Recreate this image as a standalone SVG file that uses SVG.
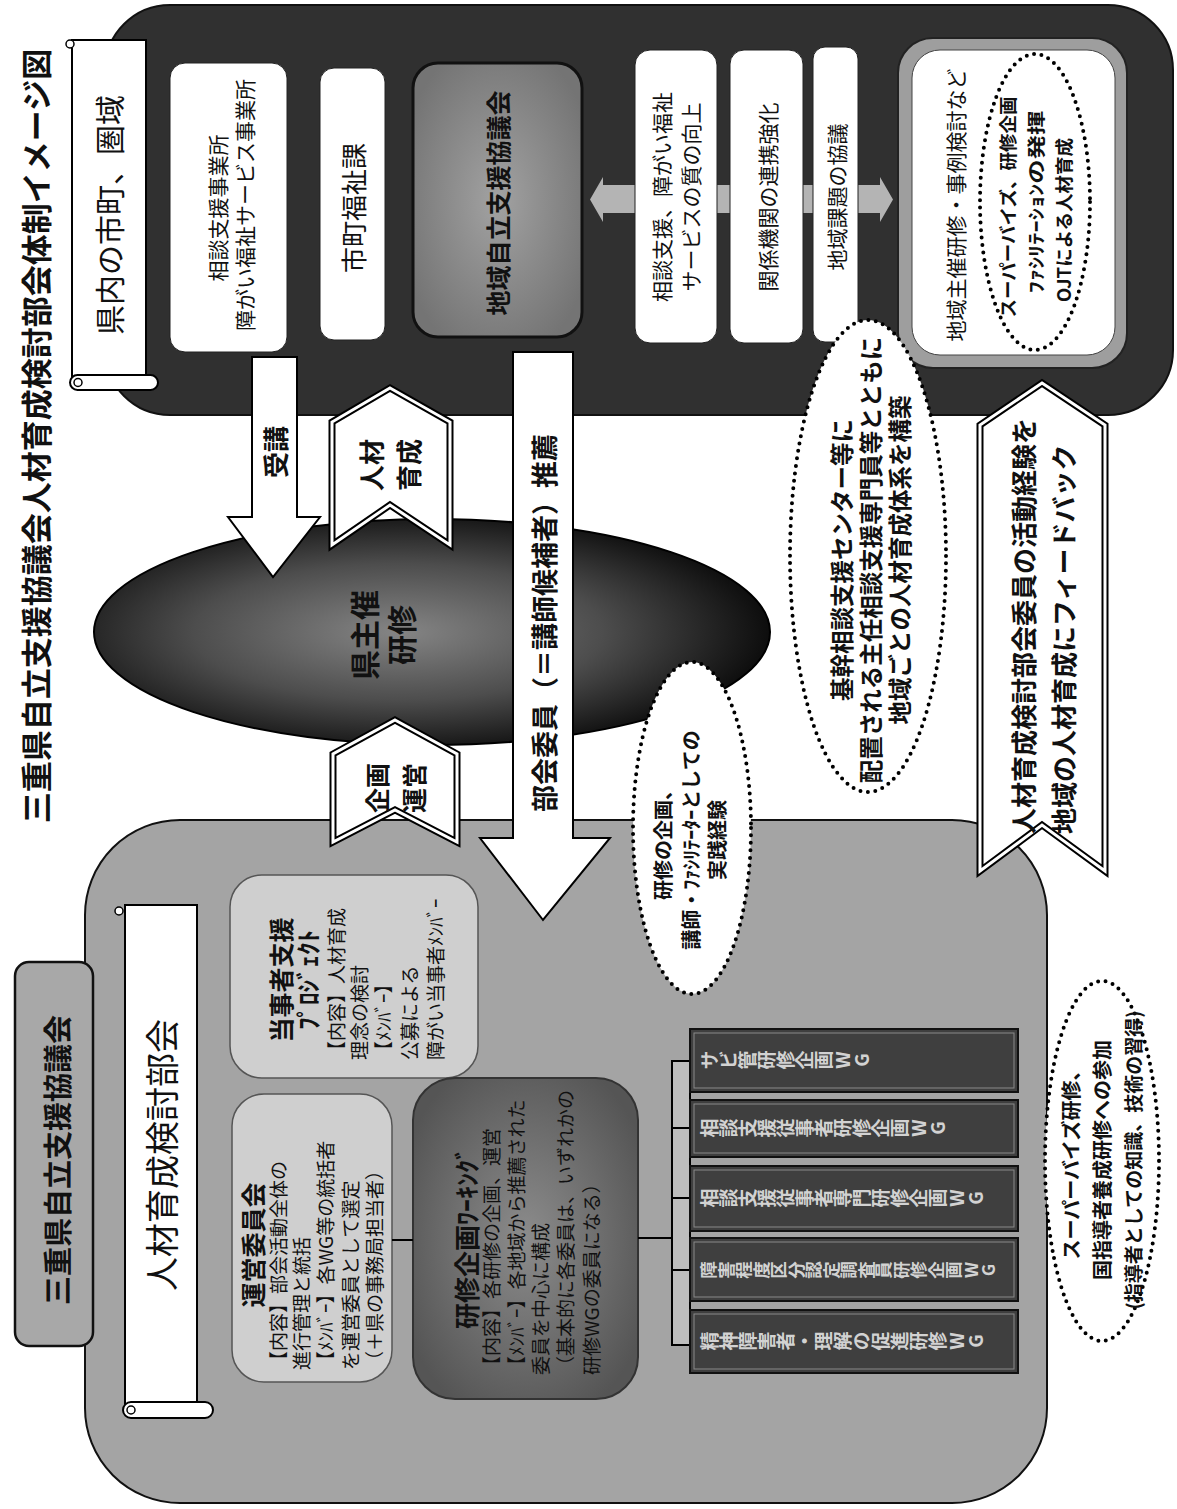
<svg xmlns="http://www.w3.org/2000/svg" width="1177" height="1509" viewBox="0 0 1177 1509">
<defs>
<style>
text{font-family:"Noto Sans CJK JP","Noto Sans",sans-serif;dominant-baseline:central;fill:#111}
.b{font-weight:700}
.m{text-anchor:middle}
.s{text-anchor:start}
.wb{fill:#fff;stroke:#222;stroke-width:1}
.dot{fill:#fff;stroke:#000;stroke-width:4;stroke-dasharray:0 7.5;stroke-linecap:round}
.doto{fill:none;stroke:#000;stroke-width:4;stroke-dasharray:0 7.5;stroke-linecap:round}
.cho{fill:#fff;stroke:#000;stroke-width:7;stroke-linejoin:miter}
.chi{fill:none;stroke:#fff;stroke-width:3;stroke-linejoin:miter}
.wg{fill:#3f3f3f;stroke:#111;stroke-width:2}
.wgi{fill:none;stroke:#8a8a8a;stroke-width:1}
.wgt{fill:#d2d2d2;font-size:19px;font-weight:700;writing-mode:vertical-rl;text-orientation:upright;text-anchor:start}
.ln{stroke:#000;stroke-width:2;fill:none}
.lt{fill:#cfcfcf;stroke:#555;stroke-width:1.5}
</style>
<radialGradient id="gEll" cx="0.45" cy="0.5" r="0.55">
<stop offset="0" stop-color="#858585"/>
<stop offset="0.55" stop-color="#4d4d4d"/>
<stop offset="1" stop-color="#0d0d0d"/>
</radialGradient>
<radialGradient id="gWk" cx="0.5" cy="0.5" r="0.6">
<stop offset="0" stop-color="#8c8c8c"/>
<stop offset="1" stop-color="#555"/>
</radialGradient>
<radialGradient id="gReg" cx="0.5" cy="0.5" r="0.6">
<stop offset="0" stop-color="#a2a2a2"/>
<stop offset="1" stop-color="#747474"/>
</radialGradient>
</defs>

<g id="title">
<text class="b m" font-size="31" font-weight="900" transform="translate(34 436) rotate(-90)">三重県自立支援協議会人材育成検討部会体制イメージ図</text>
</g>

<g id="region">
<rect x="105" y="5" width="1068" height="410" rx="65" fill="#303030" stroke="#111" stroke-width="2"/>
</g>

<g id="connectors-top">
<polygon points="590,199.5 603,177 603,185 880,185 880,177 893,199.5 880,222 880,213 603,213 603,222" fill="#b4b4b4"/>
</g>

<g id="region-scroll">
<rect x="72" y="40" width="74" height="345" fill="#fff" stroke="#000" stroke-width="2"/>
<circle cx="70" cy="44" r="4" fill="#fff" stroke="#000" stroke-width="1.5"/>
<rect x="70" y="375" width="88" height="15" rx="7.5" fill="#fff" stroke="#000" stroke-width="2"/>
<circle cx="78" cy="382.5" r="4" fill="#fff" stroke="#000" stroke-width="1.5"/>
<text class="m" font-size="30" transform="translate(108 215) rotate(-90)">県内の市町、圏域</text>
</g>

<g id="node-jigyosho">
<rect class="wb" x="170" y="63" width="117" height="289" rx="15"/>
<text class="m" font-size="21" transform="translate(217 208) rotate(-90)">相談支援事業所</text>
<text class="m" font-size="21" transform="translate(244 205) rotate(-90)">障がい福祉サービス事業所</text>
</g>

<g id="node-shicho">
<rect class="wb" x="320" y="68" width="65" height="272" rx="14"/>
<text class="m" font-size="26" transform="translate(352 208) rotate(-90)">市町福祉課</text>
</g>

<g id="node-chiiki">
<rect x="413" y="63" width="169" height="274" rx="25" fill="url(#gReg)" stroke="#111" stroke-width="3"/>
<text class="b m" font-size="25" transform="translate(497 203) rotate(-90)">地域自立支援協議会</text>
</g>

<g id="node-shitsu">
<rect class="wb" x="635" y="50" width="82" height="293" rx="15"/>
<text class="m" font-size="21" transform="translate(661 197) rotate(-90)">相談支援、障がい福祉</text>
<text class="m" font-size="21" transform="translate(690 197) rotate(-90)">サービスの質の向上</text>
</g>

<g id="node-renkei">
<rect class="wb" x="730" y="50" width="73" height="293" rx="14"/>
<text class="m" font-size="21" transform="translate(767 197) rotate(-90)">関係機関の連携強化</text>
</g>

<g id="node-kadai">
<rect class="wb" x="813" y="47" width="45" height="295" rx="12"/>
<text class="m" font-size="21" transform="translate(836 197) rotate(-90)">地域課題の協議</text>
</g>

<g id="node-chiiki-kenshu">
<rect x="898" y="38" width="229" height="330" rx="35" fill="#9e9e9e" stroke="#222" stroke-width="2"/>
<rect x="912" y="50" width="203" height="305" rx="28" fill="#fff" stroke="#444" stroke-width="1"/>
<text class="m" font-size="21" transform="translate(955 205) rotate(-90)">地域主催研修・事例検討など</text>
<ellipse class="doto" cx="1035" cy="202" rx="55" ry="148"/>
<text class="b m" font-size="18.5" transform="translate(1007 207) rotate(-90)">スーパーバイズ、研修企画</text>
<text class="b m" font-size="18.5" textLength="183" lengthAdjust="spacingAndGlyphs" transform="translate(1035 202) rotate(-90)">ﾌｧｼﾘﾃｰｼｮﾝの発揮</text>
<text class="b m" font-size="18.5" transform="translate(1063 220) rotate(-90)">OJTによる人材育成</text>
</g>

<g id="node-bukai">
<rect x="85" y="820" width="962" height="683" rx="95" fill="#a4a4a4" stroke="#111" stroke-width="2"/>
</g>

<g id="node-kyogikai-label">
<rect x="15" y="962" width="78" height="384" rx="14" fill="#a8a8a8" stroke="#111" stroke-width="2.5"/>
<text class="b m" font-size="29" transform="translate(56 1160) rotate(-90)">三重県自立支援協議会</text>
</g>

<g id="node-bukai-scroll">
<rect x="125" y="905" width="72" height="505" fill="#fff" stroke="#000" stroke-width="2"/>
<circle cx="119" cy="911" r="4" fill="#fff" stroke="#000" stroke-width="1.5"/>
<rect x="123" y="1402" width="90" height="16" rx="8" fill="#fff" stroke="#000" stroke-width="2"/>
<circle cx="131" cy="1410" r="4" fill="#fff" stroke="#000" stroke-width="1.5"/>
<text class="m" font-size="34" transform="translate(160 1155) rotate(-90)">人材育成検討部会</text>
</g>

<g id="node-tojisha">
<rect class="lt" x="230" y="875" width="248" height="203" rx="32"/>
<text class="b m" font-size="25" transform="translate(280 980) rotate(-90)">当事者支援</text>
<text class="b m" font-size="25" transform="translate(307 980) rotate(-90)">ﾌﾟﾛｼﾞｪｸﾄ</text>
<text class="s" font-size="19" transform="translate(335 1060) rotate(-90)">【内容】人材育成</text>
<text class="s" font-size="19" transform="translate(358 1060) rotate(-90)">理念の検討</text>
<text class="s" font-size="19" transform="translate(382 1060) rotate(-90)">【ﾒﾝﾊﾞｰ】</text>
<text class="s" font-size="19" transform="translate(408 1060) rotate(-90)">公募による</text>
<text class="s" font-size="19" transform="translate(434 1060) rotate(-90)">障がい当事者ﾒﾝﾊﾞｰ</text>
</g>

<g id="node-unei">
<rect class="lt" x="232" y="1094" width="160" height="288" rx="32"/>
<text class="b m" font-size="25" transform="translate(252 1245) rotate(-90)">運営委員会</text>
<text class="s" font-size="19" transform="translate(277 1370) rotate(-90)">【内容】部会活動全体の</text>
<text class="s" font-size="19" transform="translate(300 1370) rotate(-90)">進行管理と統括</text>
<text class="s" font-size="19" transform="translate(324 1370) rotate(-90)">【ﾒﾝﾊﾞｰ】各WG等の統括者</text>
<text class="s" font-size="19" transform="translate(349 1370) rotate(-90)">を運営委員として選定</text>
<text class="s" font-size="19" transform="translate(373 1370) rotate(-90)">（＋県の事務局担当者）</text>
</g>

<g id="node-working">
<rect x="413" y="1078" width="225" height="321" rx="42" fill="url(#gWk)" stroke="#333" stroke-width="2"/>
<text class="b m" font-size="26" transform="translate(465 1238) rotate(-90)">研修企画ﾜｰｷﾝｸﾞ</text>
<text class="s" font-size="19" transform="translate(490 1375) rotate(-90)">【内容】各研修の企画、運営</text>
<text class="s" font-size="19" transform="translate(515 1375) rotate(-90)">【ﾒﾝﾊﾞｰ】各地域から推薦された</text>
<text class="s" font-size="19" transform="translate(539 1375) rotate(-90)">委員を中心に構成</text>
<text class="s" font-size="19" transform="translate(564 1375) rotate(-90)">（基本的に各委員は、いずれかの</text>
<text class="s" font-size="19" transform="translate(590 1375) rotate(-90)">研修WGの委員になる）</text>
</g>

<g id="connectors">
<line class="ln" x1="392" y1="1240" x2="413" y2="1240"/>
<line class="ln" x1="638" y1="1238" x2="672" y2="1238"/>
<rect x="672" y="1061" width="18" height="284" fill="#bdbdbd" stroke="#000" stroke-width="2"/>
<line class="ln" x1="672" y1="1128" x2="690" y2="1128"/>
<line class="ln" x1="672" y1="1198" x2="690" y2="1198"/>
<line class="ln" x1="672" y1="1270" x2="690" y2="1270"/>
</g>

<g id="node-wg1">
<rect class="wg" x="690" y="1029" width="328" height="63"/>
<rect class="wgi" x="694" y="1033" width="320" height="55"/>
<text class="wgt" transform="translate(700 1060) rotate(-90)">サビ管研修企画WG</text>
</g>
<g id="node-wg2">
<rect class="wg" x="690" y="1100" width="328" height="57"/>
<rect class="wgi" x="694" y="1104" width="320" height="49"/>
<text class="wgt" transform="translate(700 1128) rotate(-90)">相談支援従事者研修企画WG</text>
</g>
<g id="node-wg3">
<rect class="wg" x="690" y="1166" width="328" height="65"/>
<rect class="wgi" x="694" y="1170" width="320" height="57"/>
<text class="wgt" transform="translate(700 1198) rotate(-90)">相談支援従事者専門研修企画WG</text>
</g>
<g id="node-wg4">
<rect class="wg" x="690" y="1238" width="328" height="63"/>
<rect class="wgi" x="694" y="1242" width="320" height="55"/>
<text class="wgt" style="font-size:17.5px" transform="translate(700 1270) rotate(-90)">障害程度区分認定調査員研修企画WG</text>
</g>
<g id="node-wg5">
<rect class="wg" x="690" y="1310" width="328" height="63"/>
<rect class="wgi" x="694" y="1314" width="320" height="55"/>
<text class="wgt" transform="translate(700 1341) rotate(-90)">精神障害者・理解の促進研修WG</text>
</g>

<g id="node-ken-kenshu">
<ellipse cx="432" cy="632" rx="338" ry="113" fill="url(#gEll)" stroke="#000" stroke-width="2"/>
<text class="b m" font-size="30" transform="translate(363 635) rotate(-90)">県主催</text>
<text class="b m" font-size="30" transform="translate(400 635) rotate(-90)">研修</text>
</g>

<g id="arrows">
<g id="arrow-juko">
<polygon points="252,357 297,357 297,517 320,517 273,577 228,517 252,517" fill="#fff" stroke="#000" stroke-width="2"/>
<text class="b m" font-size="26" transform="translate(274 452) rotate(-90)">受講</text>
</g>
<g id="arrow-jinzai">
<polygon class="cho" points="390,388 450,422 450,545 390,505 332,545 332,422"/>
<polygon class="chi" points="390,388 450,422 450,545 390,505 332,545 332,422"/>
<text class="b m" font-size="26" transform="translate(370 465) rotate(-90)">人材</text>
<text class="b m" font-size="26" transform="translate(407 465) rotate(-90)">育成</text>
</g>
<g id="arrow-kikaku">
<polygon class="cho" points="395,720 457,754 457,842 395,810 333,842 333,754"/>
<polygon class="chi" points="395,720 457,754 457,842 395,810 333,842 333,754"/>
<text class="b m" font-size="25" transform="translate(376 788) rotate(-90)">企画</text>
<text class="b m" font-size="25" transform="translate(413 788) rotate(-90)">運営</text>
</g>
<g id="arrow-suisen">
<polygon points="513,352 573,352 573,838 610,838 543,920 480,838 513,838" fill="#fff" stroke="#000" stroke-width="2"/>
<text class="b m" font-size="27" transform="translate(543 623) rotate(-90)">部会委員（＝講師候補者）推薦</text>
</g>
</g>

<g id="note-jissen">
<ellipse class="dot" cx="692" cy="828" rx="59" ry="166"/>
<text class="b m" font-size="20" transform="translate(662 840) rotate(-90)">研修の企画、</text>
<text class="b m" font-size="20" transform="translate(690 840) rotate(-90)">講師・ﾌｧｼﾘﾃｰﾀｰとしての</text>
<text class="b m" font-size="20" transform="translate(716 840) rotate(-90)">実践経験</text>
</g>

<g id="note-kikan">
<ellipse class="dot" cx="868" cy="556" rx="78" ry="236"/>
<text class="b m" font-size="23.5" transform="translate(841 560) rotate(-90)">基幹相談支援センター等に</text>
<text class="b m" font-size="23.5" transform="translate(870 560) rotate(-90)">配置される主任相談支援専門員等とともに</text>
<text class="b m" font-size="23.5" transform="translate(899 560) rotate(-90)">地域ごとの人材育成体系を構築</text>
</g>

<g id="arrow-feedback">
<polygon class="cho" points="1042,383 1105,425 1105,871 1042,825 980,871 980,425"/>
<polygon class="chi" points="1042,383 1105,425 1105,871 1042,825 980,871 980,425"/>
<text class="b s" font-size="26" transform="translate(1022 834) rotate(-90)">人材育成検討部会委員の活動経験を</text>
<text class="b s" font-size="26" transform="translate(1062 834) rotate(-90)">地域の人材育成にフィードバック</text>
</g>

<g id="note-sv">
<ellipse class="dot" cx="1102" cy="1161" rx="57" ry="180"/>
<text class="b m" font-size="20" transform="translate(1070 1160) rotate(-90)">スーパーバイズ研修、</text>
<text class="b m" font-size="20" transform="translate(1101 1160) rotate(-90)">国指導者養成研修への参加</text>
<text class="b m" font-size="19" transform="translate(1132 1160) rotate(-90)">(指導者としての知識、技術の習得)</text>
</g>
</svg>
